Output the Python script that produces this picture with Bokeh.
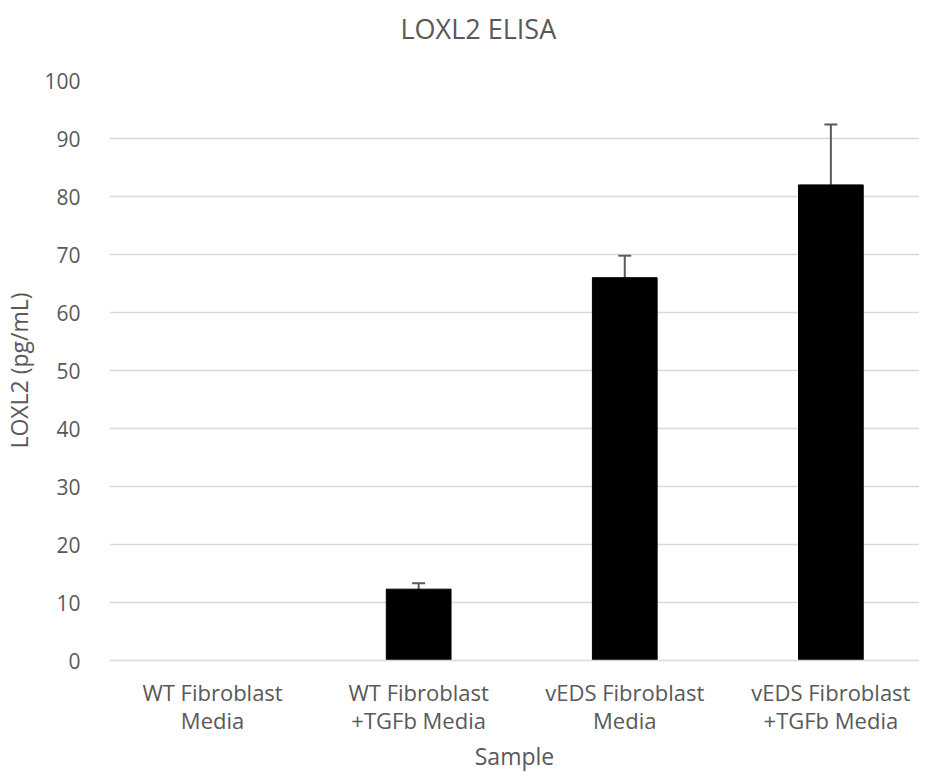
from bokeh.plotting import figure
from bokeh.models import Range1d, Whisker, TeeHead, ColumnDataSource, FixedTicker
from bokeh.embed import file_html
from bokeh.resources import INLINE

categories = ["WT Fibroblast\nMedia", "WT Fibroblast\n+TGFb Media", "vEDS Fibroblast\nMedia", "vEDS Fibroblast\n+TGFb Media"]
values = [0.0, 12.3, 66.0, 82.0]
errors = [0.0, 1.0, 3.8, 10.4]
y_ticks = [0, 10, 20, 30, 40, 50, 60, 70, 80, 90, 100]
chart_title = "LOXL2 ELISA"

xs = list(range(len(categories)))
src = ColumnDataSource(dict(x=xs, top=values))
err_idx = [i for i, e in enumerate(errors) if e > 0]
err_src = ColumnDataSource(dict(
    x=[xs[i] for i in err_idx],
    upper=[values[i] + errors[i] for i in err_idx],
    lower=[values[i] - errors[i] for i in err_idx],
))

FONT = "Open Sans"
GREY = "#595959"

p = figure(width=919, height=774, output_backend="svg", toolbar_location=None,
           x_range=Range1d(-0.5, 3.43), y_range=Range1d(0, 100),
           title=chart_title + "\n")
p.min_border_left = 108
p.min_border_right = 0
p.min_border_top = 80
p.min_border_bottom = 100
p.outline_line_color = None
p.background_fill_color = "white"
p.border_fill_color = "white"

p.title.text_font = FONT
p.title.text_font_size = "27px"
p.title.text_font_style = "normal"
p.title.text_color = GREY
p.title.align = "left"
p.title.offset = 291
p.title.standoff = 0
p.title.text_line_height = 0.9

p.vbar(x="x", top="top", width=0.314, bottom=0, source=src, fill_color="black", line_color="black")

w = Whisker(base="x", upper="upper", lower="lower", source=err_src,
            line_color="#5a5a5a", line_width=2,
            upper_head=TeeHead(size=13, line_color="#5a5a5a", line_width=2),
            lower_head=TeeHead(size=13, line_color="#5a5a5a", line_width=2))
p.add_layout(w)

p.xgrid.grid_line_color = None
p.ygrid.grid_line_color = "#d9d9d9"
p.ygrid.grid_line_width = 1.5
p.yaxis.ticker = FixedTicker(ticks=y_ticks)
p.xaxis.ticker = FixedTicker(ticks=xs)
p.xaxis.major_label_overrides = {i: c for i, c in zip(xs, categories)}

for ax in (p.xaxis[0], p.yaxis[0]):
    ax.major_tick_line_color = None
    ax.minor_tick_line_color = None
    ax.major_label_text_font = FONT
    ax.major_label_text_color = GREY
    ax.axis_label_text_font = FONT
    ax.axis_label_text_font_size = "23px"
    ax.axis_label_text_color = GREY
    ax.axis_label_text_font_style = "normal"

p.yaxis.major_label_text_font_size = "21px"
p.xaxis.major_label_text_font_size = "22px"
p.xaxis.major_label_text_line_height = 0.94

p.yaxis.axis_line_color = None
p.xaxis.axis_line_color = "#d9d9d9"
p.xaxis.axis_line_width = 1.5
p.yaxis.major_label_standoff = 23
p.xaxis.major_label_standoff = 10
p.yaxis.axis_label = "LOXL2 (pg/mL)"
p.xaxis.axis_label = "Sample"
p.yaxis.axis_label_standoff = 6
p.xaxis.axis_label_standoff = 2

open("out.html", "w").write(file_html(p, INLINE))
